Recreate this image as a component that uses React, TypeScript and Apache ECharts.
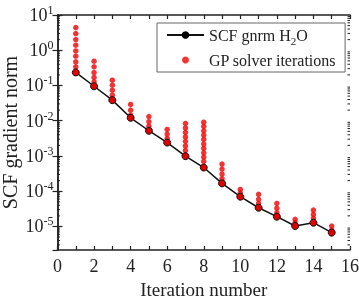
import React, { useEffect, useRef } from "react";
import * as echarts from "echarts";

const FONT = "Liberation Serif";
const SCF_NAME = "SCF gnrm H2O";
const GP_NAME = "GP solver iterations";

const iterations = [1, 2, 3, 4, 5, 6, 7, 8, 9, 10, 11, 12, 13, 14, 15];
const scfGnrm = [
  0.235, 0.095, 0.0384, 0.0121, 0.0052, 0.0024, 0.00099, 4.7e-4, 1.67e-4, 7.0e-5,
  3.4e-5, 1.9e-5, 1.03e-5, 1.28e-5, 6.7e-6,
];
const gpIter1 = [4.4, 2.97, 2.01, 1.39, 0.955, 0.676, 0.467, 0.337];
const gpIter2 = [0.49, 0.34, 0.233, 0.169, 0.126];
const gpIter3 = [0.141, 0.102, 0.0736, 0.0531];
const gpIter4 = [0.029, 0.02, 0.0144];
const gpIter5 = [0.0131, 0.0094, 0.007];
const gpIter6 = [0.00567, 0.00417, 0.00315];
const gpIter7 = [8.4e-3, 6.25e-3, 4.67e-3, 3.48e-3, 2.6e-3, 1.93e-3, 1.44e-3];
const gpIter8 = [9.1e-3, 6.9e-3, 5.18e-3, 3.91e-3, 2.95e-3, 2.17e-3, 1.64e-3, 1.23e-3, 9.3e-4, 7.0e-4];
const gpIter9 = [5.9e-4, 4.26e-4, 3.07e-4, 2.26e-4];
const gpIter10 = [1.12e-4, 8.9e-5];
const gpIter11 = [8.2e-5, 5.9e-5, 4.5e-5];
const gpIter12 = [4.5e-5, 3.3e-5, 2.46e-5];
const gpIter13 = [1.6e-5, 1.29e-5];
const gpIter14 = [2.93e-5, 2.2e-5, 1.7e-5];
const gpIter15 = [1.03e-5, 7.9e-6];
const gpSolver = [
  gpIter1, gpIter2, gpIter3, gpIter4, gpIter5, gpIter6, gpIter7, gpIter8,
  gpIter9, gpIter10, gpIter11, gpIter12, gpIter13, gpIter14, gpIter15,
];

const xTickLabels = ["0", "2", "4", "6", "8", "10", "12", "14", "16"];
const yDecades = [-5, -4, -3, -2, -1, 0, 1];
const Y_MIN = 2.15e-6;
const Y_MAX = 10;
const X_MIN = 0;
const X_MAX = 16;

// minor log ticks (2..9 x 10^n) inside the axis range
const minorMultipliers = [2, 3, 4, 5, 6, 7, 8, 9];
const minorLogTicks: number[] = [];
[-6, ...yDecades].forEach((e) => {
  minorMultipliers.forEach((m) => {
    const v = m * Math.pow(10, e);
    if (v > Y_MIN && v < Y_MAX) minorLogTicks.push(v);
  });
});

const AX = "#222";

export default function App() {
  const ref = useRef<HTMLDivElement>(null);
  useEffect(() => {
    if (!ref.current) return;
    const chart = echarts.init(ref.current, undefined, { renderer: "svg" });
    const gpData: number[][] = [];
    gpSolver.forEach((vals, i) => vals.forEach((v) => gpData.push([iterations[i], v])));
    const lineData = iterations.map((x, i) => [x, scfGnrm[i]]);

    const axisLine = { show: true, lineStyle: { color: AX, width: 1.5 } };
    const xCommon = {
      type: "value",
      min: X_MIN,
      max: X_MAX,
      interval: 2,
      axisLine,
      axisTick: { show: true, inside: true, length: 4, lineStyle: { color: AX, width: 1.2 } },
      minorTick: { show: true, splitNumber: 2, length: 4, lineStyle: { color: AX, width: 1.2 } },
      splitLine: { show: false },
      minorSplitLine: { show: false },
    };
    const yCommon = {
      type: "log",
      min: Y_MIN,
      max: Y_MAX,
      axisLine,
      axisTick: { show: true, inside: true, length: 5, lineStyle: { color: AX, width: 1.2 } },
      splitLine: { show: false },
    };

    chart.setOption({
      animation: false,
      textStyle: { fontFamily: FONT },
      grid: { left: 57.5, top: 15, right: 9, bottom: 50, containLabel: false, outerBoundsMode: "none" },
      legend: {
        orient: "vertical",
        left: 157,
        top: 23,
        padding: [4, 9, 4, 9],
        borderColor: "#666",
        borderWidth: 1,
        itemWidth: 37,
        itemHeight: 7,
        itemGap: 6,
        itemTextGap: 4,
        data: [
          { name: SCF_NAME, itemStyle: { color: "#000", borderColor: "#000" } },
          { name: GP_NAME },
        ],
        formatter: (name: string) =>
          name === SCF_NAME ? "{t|SCF gnrm H}{sub|2}{t|O}" : "{t|" + name + "}",
        textStyle: {
          fontFamily: FONT,
          fontSize: 16,
          color: AX,
          rich: {
            t: { fontFamily: FONT, fontSize: 16, color: AX },
            sub: { fontFamily: FONT, fontSize: 11, color: AX, padding: [11, 0, 0, 0] },
          },
        },
      },
      xAxis: [
        {
          ...xCommon,
          position: "bottom",
          name: "Iteration number",
          nameLocation: "middle",
          nameGap: 30,
          nameMoveOverlap: false,
          nameTextStyle: { fontFamily: FONT, fontSize: 19, color: AX },
          axisLabel: {
            fontFamily: FONT,
            fontSize: 18,
            color: AX,
            margin: 7,
            formatter: (v: number) => xTickLabels[Math.round(v / 2)] ?? String(v),
          },
        },
        { ...xCommon, position: "top", axisLabel: { show: false } },
      ],
      yAxis: [
        {
          ...yCommon,
          position: "left",
          name: "SCF gradient norm",
          nameLocation: "middle",
          nameGap: 38,
          nameMoveOverlap: false,
          nameTextStyle: { fontFamily: FONT, fontSize: 20, color: AX },
          axisLabel: {
            showMinLabel: false,
            margin: 4,
            formatter: (v: number) => {
              const e = Math.round(Math.log10(v));
              return yDecades.includes(e) ? "{b|10}{s|" + e + "}" : "";
            },
            rich: {
              b: { fontFamily: FONT, fontSize: 18, color: AX },
              s: { fontFamily: FONT, fontSize: 12, color: AX, padding: [0, 0, 10, 0] },
            },
          },
        },
        { ...yCommon, position: "right", axisLabel: { show: false } },
      ],
      series: [
        {
          type: "custom",
          silent: true,
          xAxisIndex: 0,
          yAxisIndex: 0,
          clip: false,
          data: minorLogTicks.map((v) => [X_MIN, v]),
          renderItem: (_p: any, api: any) => {
            const v = api.value(1);
            const l = api.coord([X_MIN, v]);
            const r = api.coord([X_MAX, v]);
            return {
              type: "group",
              children: [
                { type: "line", shape: { x1: l[0], y1: l[1], x2: l[0] + 2.5, y2: l[1] }, style: { stroke: AX, lineWidth: 1 } },
                { type: "line", shape: { x1: r[0] - 2.5, y1: r[1], x2: r[0], y2: r[1] }, style: { stroke: AX, lineWidth: 1 } },
              ],
            };
          },
          z: 1,
        },
        {
          name: GP_NAME,
          type: "scatter",
          data: gpData,
          symbol: "circle",
          symbolSize: 5.5,
          itemStyle: { color: "#f00000" },
          z: 2,
        },
        {
          name: SCF_NAME,
          type: "line",
          data: lineData,
          symbol: "circle",
          symbolSize: 7,
          showAllSymbol: true,
          lineStyle: { color: "#111", width: 1.5 },
          itemStyle: { color: "#e00000", borderColor: "#111", borderWidth: 1 },
          z: 3,
        },
      ],
    });
    return () => chart.dispose();
  }, []);
  return <div ref={ref} style={{ position: "fixed", left: 0, top: 0, width: 359, height: 300 }} />;
}
